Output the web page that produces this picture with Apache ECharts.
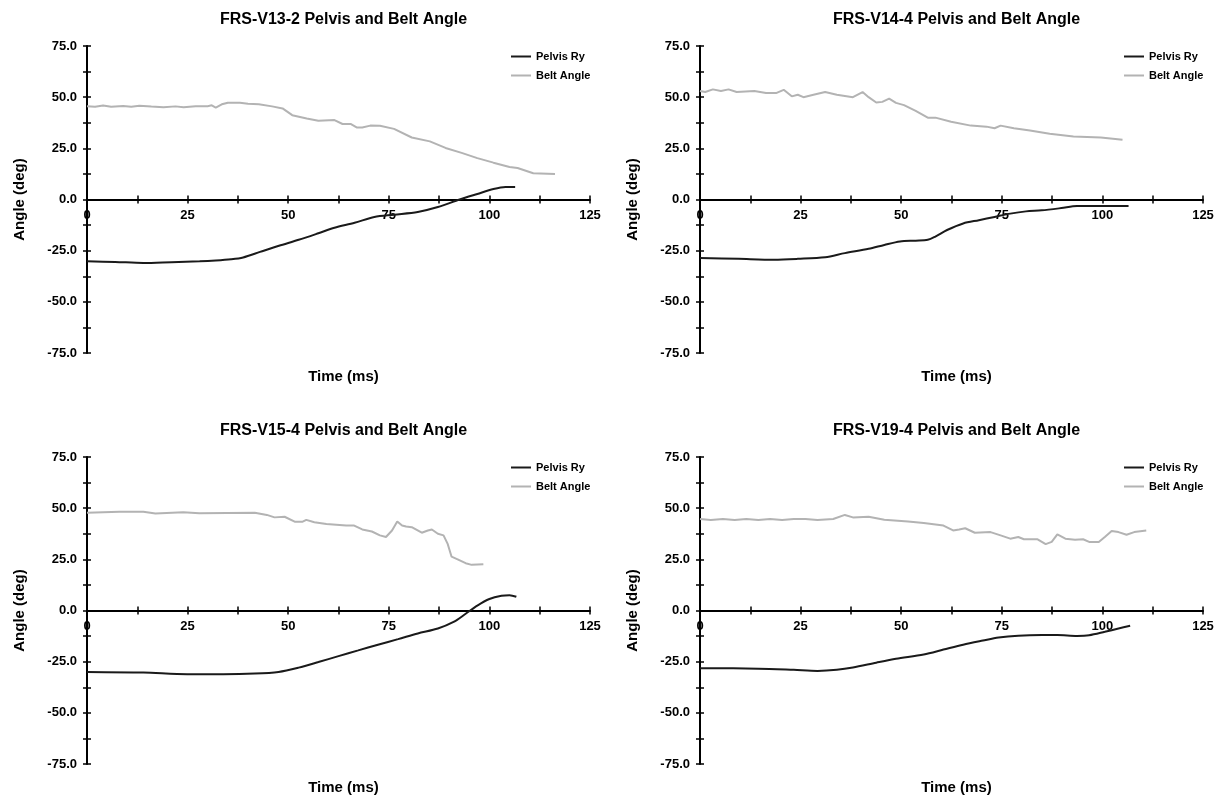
<!DOCTYPE html>
<html>
<head>
<meta charset="utf-8">
<script src="https://cdn.jsdelivr.net/npm/echarts@6/dist/echarts.min.js"></script>
<style>
  html, body { margin: 0; padding: 0; background: #fff; }
  #main { width: 1223px; height: 803px; }
</style>
</head>
<body>
<div id="main"></div>
<script>
// chart titles (one per panel)
var titles = [
  'FRS-V13-2 Pelvis and Belt Angle',
  'FRS-V14-4 Pelvis and Belt Angle',
  'FRS-V15-4 Pelvis and Belt Angle',
  'FRS-V19-4 Pelvis and Belt Angle'
];
var seriesNames = ['Pelvis Ry', 'Belt Angle'];
var xTicks = [0, 25, 50, 75, 100, 125];
var yTicks = [-75, -50, -25, 0, 25, 50, 75];

// [time ms, angle deg]
var pelvisV13 = [[0,-30.2],[7,-30.5],[14,-31],[21,-30.6],[28,-30.2],[32,-29.8],[35.8,-29.2],[38.8,-28.3],[43,-25.6],[47.7,-22.6],[52.6,-19.7],[57.5,-16.5],[61.5,-13.8],[66.5,-11.4],[71.4,-8.5],[76.3,-7.4],[82.2,-6.1],[87.2,-3.7],[92.6,0],[97,2.7],[101,5.1],[104,6.1],[106.4,6.1]];
var beltV13 = [[0,45.6],[2,45.3],[4,45.9],[6,45.3],[9,45.7],[11,45.3],[13,45.8],[16,45.4],[19,45.1],[22,45.5],[24,45.1],[27,45.6],[30,45.6],[31,46],[32,44.9],[33.5,46.5],[35,47.3],[38,47.3],[40,46.8],[42.7,46.5],[46,45.5],[48.6,44.5],[51,41.2],[54.6,39.6],[57.5,38.5],[61.5,38.8],[63.5,36.9],[65.5,36.9],[67,35.2],[68.4,35.2],[70.4,36.1],[72.8,36],[76.3,34.5],[80.7,30.3],[85.2,28.4],[89.1,25.2],[93.1,22.8],[97,20.2],[101,18],[105,15.9],[107,15.4],[110.9,12.8],[116.3,12.4]];

var pelvisV14 = [[0,-28.6],[9.6,-29],[18.4,-29.4],[24.3,-29],[31.1,-28.2],[36,-26.2],[41.9,-24.1],[45.8,-22.2],[49.7,-20.5],[53.6,-20.1],[56.6,-19.7],[58.5,-18.1],[61.4,-14.9],[65.4,-11.7],[69.3,-10.1],[73.2,-8.5],[77.1,-6.9],[81,-5.8],[84.9,-5.3],[89.8,-4.2],[93.7,-3.2],[99.6,-3.2],[106.5,-3.2]];
var beltV14 = [[0,53],[1.3,52.5],[3.2,53.8],[5.2,53],[7.1,53.8],[9.1,52.5],[13.5,53],[16.4,52],[18.9,52],[20.8,53.6],[22.8,50.4],[24.3,51.2],[25.7,50],[28.2,51.2],[31.1,52.5],[34,51.2],[38,50],[40.4,52.5],[41.9,50],[43.8,47.4],[45.3,47.7],[47,49.3],[48.7,47.2],[50.7,46.1],[53.6,43.3],[56.6,40],[58.5,40],[62.4,38],[67.3,36.1],[71.2,35.6],[73.2,34.8],[74.7,36.1],[78,34.8],[82,33.7],[86.9,32.1],[92.8,30.8],[99.6,30.3],[105,29.2]];

var pelvisV15 = [[0,-30],[14,-30.3],[24.9,-31.1],[33.8,-31.1],[41.7,-30.8],[47.6,-30],[52.6,-27.9],[57.5,-25.2],[62.5,-22.3],[67.4,-19.5],[72.3,-16.7],[77.3,-14],[82.2,-11.2],[87.2,-8.8],[91.1,-5.6],[94.1,-1.6],[97,2.4],[100,5.6],[103,7.2],[105,7.5],[106.7,6.7]];
var beltV15 = [[0,47.8],[8.1,48.2],[14,48.3],[17,47.4],[23.9,48],[27.9,47.5],[41.7,47.8],[44.7,46.7],[46.6,45.5],[49.1,45.8],[51.6,43.4],[53.6,43.4],[54.5,44.3],[56.5,43.1],[59.5,42.3],[64.4,41.5],[66.4,41.5],[68.4,39.6],[70.8,38.6],[72.8,36.7],[74.3,35.9],[75.8,39.1],[77.1,43.5],[78.3,41.5],[79.3,41],[80.7,40.7],[83.2,38],[84.7,39.1],[85.7,39.6],[87.2,37.5],[88.6,36.7],[89.6,32.7],[90.6,26.3],[92.1,25],[94.1,23.1],[95.6,22.3],[98.5,22.6]];

var pelvisV19 = [[0,-28.2],[14.5,-28.4],[23.3,-29],[29.2,-29.5],[34,-29],[38,-27.9],[43.8,-25.5],[48.7,-23.6],[55.6,-21.5],[60.5,-19.1],[65.4,-16.7],[70.3,-14.7],[74.2,-13.2],[79.1,-12.3],[85,-12],[88.8,-12],[93.7,-12.4],[96.7,-12.1],[100.6,-10.4],[104,-8.8],[106.9,-7.5]];
var beltV19 = [[0,44.7],[2.7,44.2],[5.7,44.7],[8.6,44.2],[11.5,44.7],[14.5,44.2],[17.4,44.7],[20.4,44.2],[23.3,44.7],[26.2,44.7],[29.2,44.2],[33.1,44.7],[36,46.7],[38,45.5],[41.9,45.8],[45.8,44.3],[51.7,43.5],[55.6,42.7],[60.5,41.5],[62.9,39.1],[64.4,39.6],[65.9,40.2],[68.3,38],[72.2,38.3],[74.7,36.7],[77.1,35.1],[79.1,35.9],[80.5,34.8],[83.9,34.8],[85.9,32.4],[87.4,33.5],[88.8,37.2],[90.8,35.1],[93.2,34.6],[95.2,34.8],[96.7,33.5],[99.1,33.5],[100.6,35.9],[102.3,38.8],[104,38.3],[106,37],[107.9,38.3],[110.9,39.1]];

var pelvisData = [pelvisV13, pelvisV14, pelvisV15, pelvisV19];
var beltData = [beltV13, beltV14, beltV15, beltV19];

var FONT = '"Liberation Sans", Arial, sans-serif';
var panels = [
  {left: 87, top: 46},
  {left: 700, top: 46},
  {left: 87, top: 457},
  {left: 700, top: 457}
];
var W = 503, H = 307;
var tickStyle = {color: '#000', width: 1.5};

var myChart = echarts.init(document.getElementById('main'));
var option = {
  backgroundColor: '#fff',
  animation: false,
  title: [], legend: [], grid: [], xAxis: [], yAxis: [], series: []
};

for (var i = 0; i < 4; i++) {
  var p = panels[i];
  option.title.push({
    text: titles[i],
    left: p.left + W / 2,
    top: p.top - 39,
    textAlign: 'center',
    textStyle: {fontFamily: FONT, fontSize: 16, fontWeight: 'bold', color: '#000'}
  });
  // x axis name drawn as a title, since the axis line sits at zero
  option.title.push({
    text: 'Time (ms)',
    left: p.left + W / 2,
    top: p.top + H + 11,
    textAlign: 'center',
    textStyle: {fontFamily: FONT, fontSize: 15, fontWeight: 'bold', color: '#000'}
  });
  option.grid.push({left: p.left, top: p.top, width: W, height: H, containLabel: false, outerBoundsMode: 'none'});
  option.legend.push({
    orient: 'vertical',
    left: p.left + 419,
    top: p.top,
    itemWidth: 20,
    itemHeight: 2,
    itemGap: 8,
    icon: 'rect',
    data: seriesNames,
    textStyle: {fontFamily: FONT, fontSize: 11, fontWeight: 'bold', color: '#000'}
  });
  // main x axis (at angle 0) with ticks below the line
  option.xAxis.push({
    type: 'value',
    gridIndex: i,
    position: 'bottom',
    offset: -H / 2,
    min: 0, max: 125, interval: 25,
    axisLine: {onZero: false, lineStyle: {color: '#000', width: 2}},
    axisTick: {length: 4, lineStyle: tickStyle},
    minorTick: {show: true, splitNumber: 2, length: 4, lineStyle: tickStyle},
    splitLine: {show: false},
    axisLabel: {
      margin: 9,
      fontFamily: FONT, fontSize: 13, fontWeight: 'bold', color: '#000',
      formatter: function (v) { return xTicks.indexOf(v) >= 0 ? String(v) : ''; }
    }
  });
  // twin x axis at the same place, only for ticks above the line
  option.xAxis.push({
    type: 'value',
    gridIndex: i,
    position: 'top',
    offset: -H / 2,
    min: 0, max: 125, interval: 25,
    axisLine: {show: false, onZero: false},
    axisTick: {length: 4, lineStyle: tickStyle},
    minorTick: {show: true, splitNumber: 2, length: 4, lineStyle: tickStyle},
    splitLine: {show: false},
    axisLabel: {show: false}
  });
  option.yAxis.push({
    type: 'value',
    gridIndex: i,
    position: 'left',
    min: -75, max: 75, interval: 25,
    name: 'Angle (deg)',
    nameLocation: 'middle',
    nameGap: 60,
    nameTextStyle: {fontFamily: FONT, fontSize: 15, fontWeight: 'bold', color: '#000'},
    axisLine: {show: true, onZero: false, lineStyle: {color: '#000', width: 2}},
    axisTick: {show: true, length: 4, lineStyle: tickStyle},
    minorTick: {show: true, splitNumber: 2, length: 4, lineStyle: tickStyle},
    splitLine: {show: false},
    axisLabel: {
      margin: 10,
      fontFamily: FONT, fontSize: 13, fontWeight: 'bold', color: '#000',
      formatter: function (v) { return yTicks.indexOf(v) >= 0 ? v.toFixed(1) : ''; }
    }
  });
  // twin y axis moved onto the left edge, ticks to the right
  option.yAxis.push({
    type: 'value',
    gridIndex: i,
    position: 'right',
    offset: -W,
    min: -75, max: 75, interval: 25,
    axisLine: {show: false, onZero: false},
    axisTick: {show: true, length: 4, lineStyle: tickStyle},
    minorTick: {show: true, splitNumber: 2, length: 4, lineStyle: tickStyle},
    splitLine: {show: false},
    axisLabel: {show: false}
  });
  option.series.push({
    name: seriesNames[0],
    type: 'line',
    xAxisIndex: 2 * i, yAxisIndex: 2 * i,
    data: pelvisData[i],
    showSymbol: false,
    smooth: 0.3,
    itemStyle: {color: '#1a1a1a'},
    lineStyle: {color: '#1a1a1a', width: 2}
  });
  option.series.push({
    name: seriesNames[1],
    type: 'line',
    xAxisIndex: 2 * i, yAxisIndex: 2 * i,
    data: beltData[i],
    showSymbol: false,
    itemStyle: {color: '#b3b3b3'},
    lineStyle: {color: '#b3b3b3', width: 2}
  });
}

myChart.setOption(option);
</script>
</body>
</html>
